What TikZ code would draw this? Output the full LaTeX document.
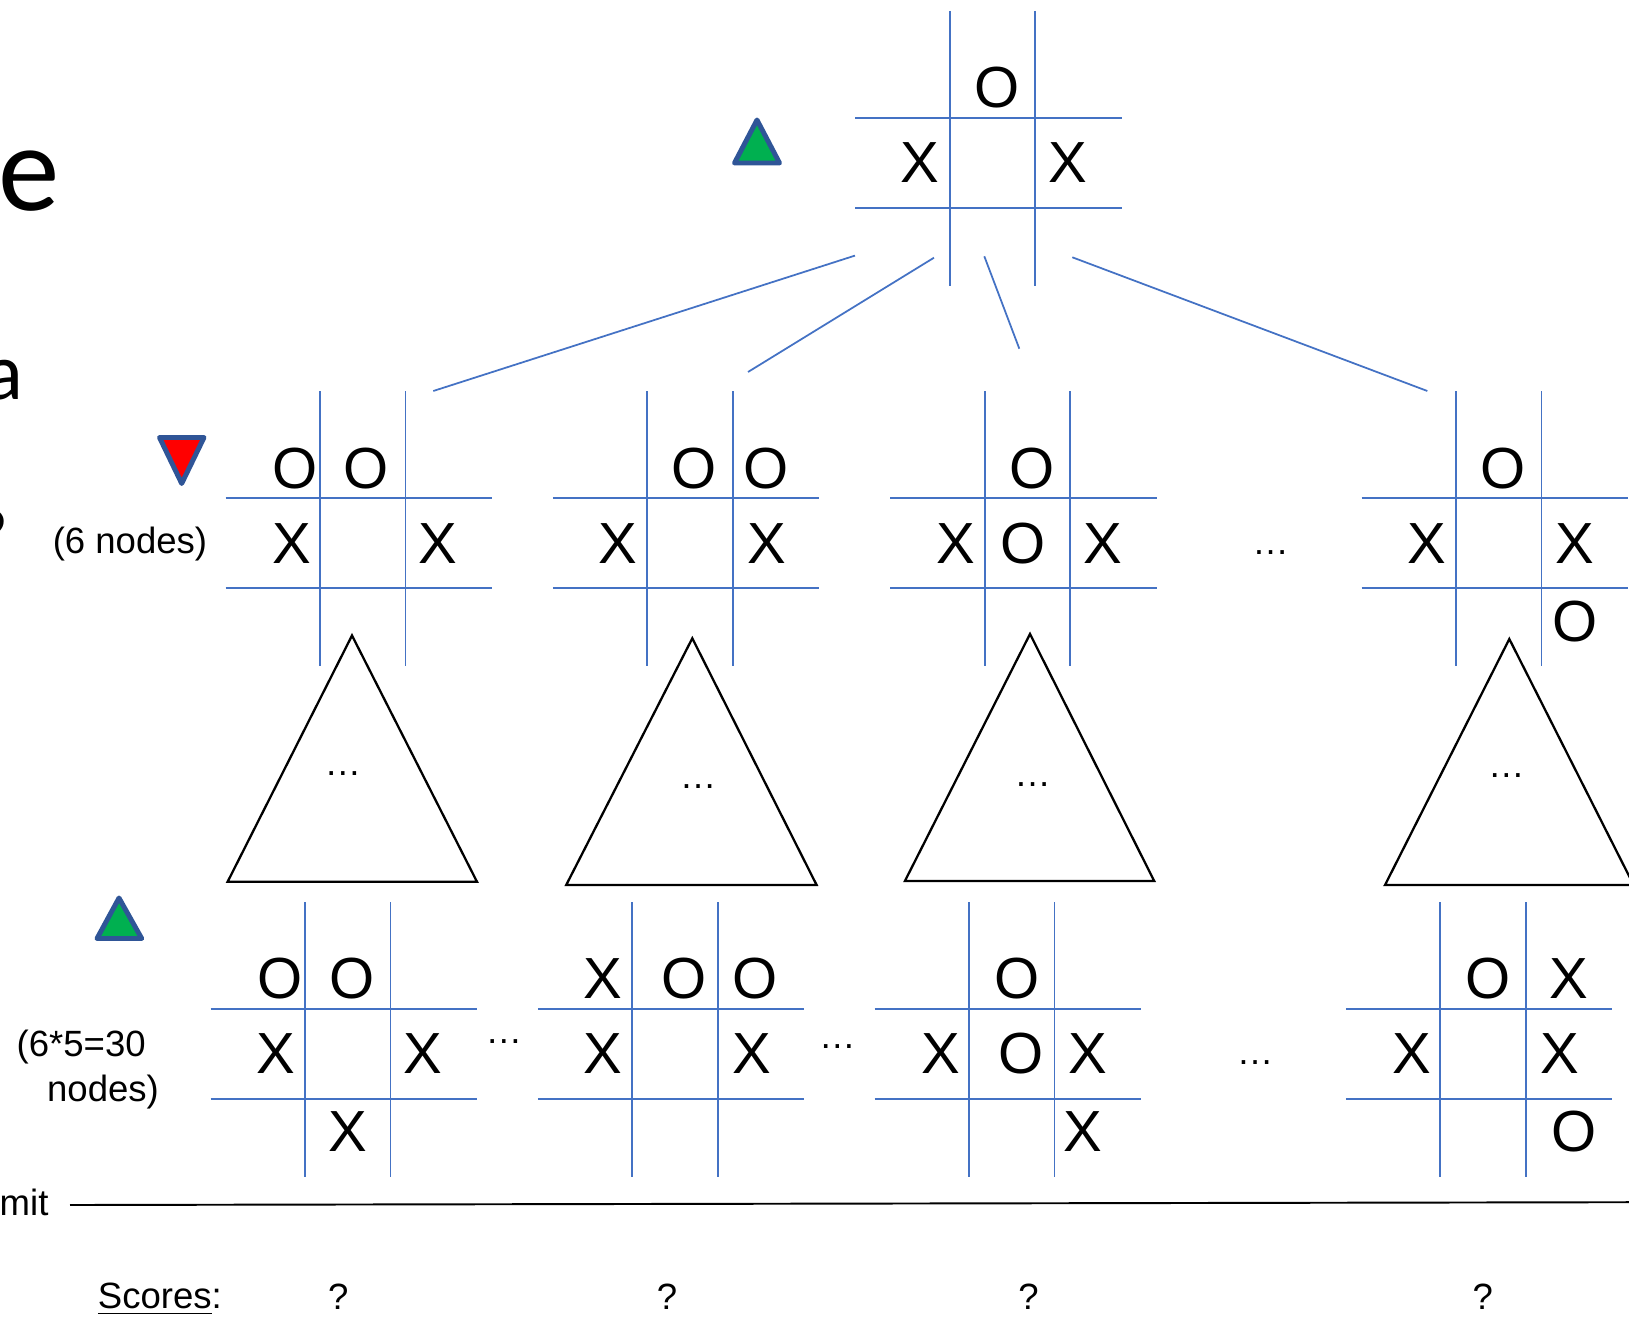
\documentclass[tikz,border=0pt]{standalone}
\usepackage{fontspec}
\setmainfont{Liberation Sans}
\newfontfamily\slidefont{Carlito}
\usetikzlibrary{positioning}

\definecolor{lineblue}{RGB}{68,114,196}
\definecolor{rimblue}{RGB}{47,85,151}
\definecolor{maxgreen}{RGB}{0,176,80}
\definecolor{minred}{RGB}{255,0,0}

\begin{document}
\begin{tikzpicture}[
	boardline/.style={lineblue, line width=0.5pt},
	link/.style={lineblue, line width=0.5pt},
	subtree/.style={draw=black, fill=white, line width=0.65pt},
	maxnode/.style={draw=rimblue, fill=maxgreen, line width=1.4pt, line join=round},
	minnode/.style={draw=rimblue, fill=minred, line width=1.4pt, line join=round},
	piece/.style={inner sep=0pt, font=\fontsize{16.5}{18}\selectfont},
	note/.style={inner sep=0pt, font=\fontsize{10.4}{12.5}\selectfont},
	slide/.style={inner sep=0pt, font=\slidefont\fontsize{23}{26}\selectfont},
]
	\useasboundingbox (0,0) rectangle (16.29,13.16);

	% slide text cut off at the left
	\node[slide, font=\slidefont\fontsize{35}{40}\selectfont, anchor=base west] (ttl) at (-0.027,11.05) {e};
	\node[slide, anchor=base east] (txa) at (0.24,9.16) {a};
	\node[slide, anchor=base east] (txq) at (0.095,7.51) {?};

	% root
	\draw[maxnode] (7.345,11.53) -- (7.795,11.53) -- (7.57,11.96) -- cycle;
	\begin{scope}[shift={(9.497,11.98)}]
		\draw[boardline] (-0.945,0) -- (1.721,0);
		\draw[boardline] (-0.945,-0.90) -- (1.721,-0.90);
		\draw[boardline] (0,1.07) -- (0,-1.68);
		\draw[boardline] (0.855,1.07) -- (0.855,-1.68);
		% label
		\node[piece] (r-12) at (0.47,0.30) {O};
		\node[piece] (r-21) at (-0.297,-0.45) {X};
		\node[piece] (r-23) at (1.183,-0.45) {X};
	\end{scope}

	% branches
	\coordinate (b1a) at (8.55,10.604);   \coordinate (b1b) at (4.333,9.25);
	\coordinate (b2a) at (9.34,10.583);   \coordinate (b2b) at (7.48,9.44);
	\coordinate (b3a) at (9.843,10.597);  \coordinate (b3b) at (10.193,9.673);
	\coordinate (b4a) at (10.723,10.587); \coordinate (b4b) at (14.273,9.25);
	\draw[link] (b1a) -- (b1b);
	\draw[link] (b2a) -- (b2b);
	\draw[link] (b3a) -- (b3b);
	\draw[link] (b4a) -- (b4b);

	% level 1 (min)
	\draw[minnode] (1.595,8.785) -- (2.04,8.785) -- (1.817,8.325) -- cycle;
	\node[note] (n6) at (1.30,7.72) {(6 nodes)};

	\begin{scope}[shift={(3.20,8.177)}]
		\draw[boardline] (-0.945,0) -- (1.721,0);
		\draw[boardline] (-0.945,-0.90) -- (1.721,-0.90);
		\draw[boardline] (0,1.07) -- (0,-1.68);
		\draw[boardline] (0.855,1.07) -- (0.855,-1.68);
		% label
		\node[piece] (s1-11) at (-0.25,0.30) {O};
		\node[piece] (s1-12) at (0.457,0.30) {O};
		\node[piece] (s1-21) at (-0.283,-0.45) {X};
		\node[piece] (s1-23) at (1.183,-0.45) {X};
	\end{scope}
	\begin{scope}[shift={(6.473,8.177)}]
		\draw[boardline] (-0.945,0) -- (1.721,0);
		\draw[boardline] (-0.945,-0.90) -- (1.721,-0.90);
		\draw[boardline] (0,1.07) -- (0,-1.68);
		\draw[boardline] (0.855,1.07) -- (0.855,-1.68);
		% label
		\node[piece] (s2-12) at (0.47,0.30) {O};
		\node[piece] (s2-13) at (1.184,0.30) {O};
		\node[piece] (s2-21) at (-0.29,-0.45) {X};
		\node[piece] (s2-23) at (1.194,-0.45) {X};
	\end{scope}
	\begin{scope}[shift={(9.847,8.177)}]
		\draw[boardline] (-0.945,0) -- (1.721,0);
		\draw[boardline] (-0.945,-0.90) -- (1.721,-0.90);
		\draw[boardline] (0,1.07) -- (0,-1.68);
		\draw[boardline] (0.855,1.07) -- (0.855,-1.68);
		% label
		\node[piece] (s3-12) at (0.47,0.30) {O};
		\node[piece] (s3-21) at (-0.29,-0.45) {X};
		\node[piece] (s3-22) at (0.38,-0.45) {O};
		\node[piece] (s3-23) at (1.18,-0.45) {X};
	\end{scope}
	\node[note] (s-dots) at (12.706,7.633) {…};
	\begin{scope}[shift={(14.56,8.177)}]
		\draw[boardline] (-0.945,0) -- (1.721,0);
		\draw[boardline] (-0.945,-0.90) -- (1.721,-0.90);
		\draw[boardline] (0,1.07) -- (0,-1.68);
		\draw[boardline] (0.855,1.07) -- (0.855,-1.68);
		% label
		\node[piece] (s4-12) at (0.473,0.30) {O};
		\node[piece] (s4-21) at (-0.293,-0.45) {X};
		\node[piece] (s4-23) at (1.19,-0.45) {X};
		\node[piece] (s4-33) at (1.19,-1.23) {O};
	\end{scope}

	% subtrees
	\draw[subtree] (3.52,6.805) -- (4.77,4.342) -- (2.276,4.342) -- cycle;
	\draw[subtree] (6.923,6.777) -- (8.166,4.31) -- (5.662,4.31) -- cycle;
	\draw[subtree] (10.30,6.82) -- (11.542,4.35) -- (9.049,4.35) -- cycle;
	\draw[subtree] (15.093,6.77) -- (16.336,4.31) -- (13.85,4.31) -- cycle;
	\node[note] (d1) at (3.428,5.42) {…};
	\node[note] (d2) at (6.981,5.295) {…};
	\node[note] (d3) at (10.327,5.316) {…};
	\node[note] (d4) at (15.064,5.40) {…};

	% level 2 (max)
	\draw[maxnode] (0.97,3.775) -- (1.417,3.775) -- (1.19,4.18) -- cycle;
	\node[note] (n30a) at (0.812,2.693) {(6*5=30};
	\node[note] (n30b) at (1.03,2.235) {nodes)};

	\begin{scope}[shift={(3.05,3.07)}]
		\draw[boardline] (-0.945,0) -- (1.721,0);
		\draw[boardline] (-0.945,-0.90) -- (1.721,-0.90);
		\draw[boardline] (0,1.07) -- (0,-1.68);
		\draw[boardline] (0.855,1.07) -- (0.855,-1.68);
		% label
		\node[piece] (t1-11) at (-0.25,0.30) {O};
		\node[piece] (t1-12) at (0.467,0.30) {O};
		\node[piece] (t1-21) at (-0.29,-0.45) {X};
		\node[piece] (t1-23) at (1.178,-0.45) {X};
		\node[piece] (t1-32) at (0.427,-1.23) {X};
	\end{scope}
	\node[note] (t-dots1) at (5.039,2.74) {…};
	\begin{scope}[shift={(6.323,3.07)}]
		\draw[boardline] (-0.945,0) -- (1.721,0);
		\draw[boardline] (-0.945,-0.90) -- (1.721,-0.90);
		\draw[boardline] (0,1.07) -- (0,-1.68);
		\draw[boardline] (0.855,1.07) -- (0.855,-1.68);
		% label
		\node[piece] (t2-11) at (-0.29,0.30) {X};
		\node[piece] (t2-12) at (0.52,0.30) {O};
		\node[piece] (t2-13) at (1.227,0.30) {O};
		\node[piece] (t2-21) at (-0.29,-0.45) {X};
		\node[piece] (t2-23) at (1.194,-0.45) {X};
	\end{scope}
	\node[note] (t-dots2) at (8.374,2.69) {…};
	\begin{scope}[shift={(9.69,3.07)}]
		\draw[boardline] (-0.945,0) -- (1.721,0);
		\draw[boardline] (-0.945,-0.90) -- (1.721,-0.90);
		\draw[boardline] (0,1.07) -- (0,-1.68);
		\draw[boardline] (0.855,1.07) -- (0.855,-1.68);
		% label
		\node[piece] (t3-12) at (0.477,0.30) {O};
		\node[piece] (t3-21) at (-0.283,-0.45) {X};
		\node[piece] (t3-22) at (0.52,-0.45) {O};
		\node[piece] (t3-23) at (1.187,-0.45) {X};
		\node[piece] (t3-33) at (1.143,-1.23) {X};
	\end{scope}
	\node[note] (t-dots3) at (12.55,2.532) {…};
	\begin{scope}[shift={(14.403,3.07)}]
		\draw[boardline] (-0.945,0) -- (1.721,0);
		\draw[boardline] (-0.945,-0.90) -- (1.721,-0.90);
		\draw[boardline] (0,1.07) -- (0,-1.68);
		\draw[boardline] (0.855,1.07) -- (0.855,-1.68);
		% label
		\node[piece] (t4-12) at (0.474,0.30) {O};
		\node[piece] (t4-13) at (1.284,0.30) {X};
		\node[piece] (t4-21) at (-0.286,-0.45) {X};
		\node[piece] (t4-23) at (1.197,-0.45) {X};
		\node[piece] (t4-33) at (1.337,-1.23) {O};
	\end{scope}

	% cut-off line
	\node[note, anchor=base west] (lim) at (-0.01,1.003) {mit};
	\coordinate (cut-l) at (0.70,1.11);
	\coordinate (cut-r) at (16.29,1.138);
	\draw[black, line width=0.55pt] (cut-l) -- (cut-r);

	% scores
	\node[note, anchor=base west] (scores) at (0.972,0.077) {\underline{Scores}:};
	\node[note, anchor=base] (q1) at (3.383,0.07) {?};
	\node[note, anchor=base] (q2) at (6.67,0.07) {?};
	\node[note, anchor=base] (q3) at (10.285,0.07) {?};
	\node[note, anchor=base] (q4) at (14.827,0.07) {?};
\end{tikzpicture}
\end{document}
